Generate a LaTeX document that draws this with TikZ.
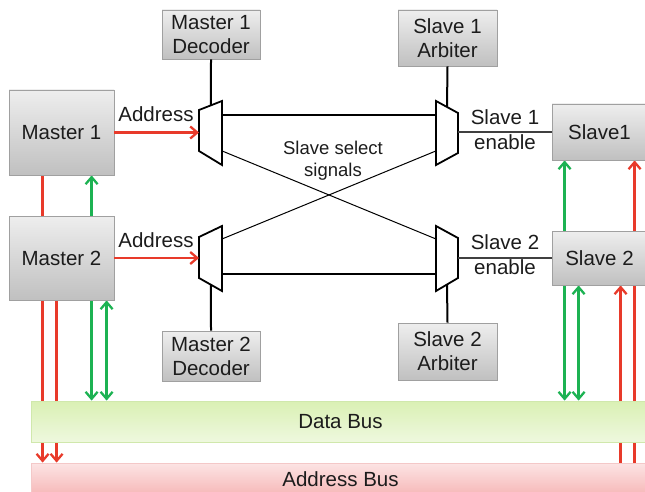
\documentclass[tikz,border=0pt]{standalone}
\usepackage{fontspec}
\setmainfont{Liberation Sans}
\usetikzlibrary{arrows.meta,calc,shadows}

\definecolor{sigred}{RGB}{232,58,42}
\definecolor{siggreen}{RGB}{28,178,82}
\definecolor{boxtop}{RGB}{238,238,238}
\definecolor{boxbot}{RGB}{192,192,192}
\definecolor{boxline}{RGB}{160,160,160}
\definecolor{dtop}{RGB}{218,240,180}
\definecolor{dbot}{RGB}{238,248,222}
\definecolor{dline}{RGB}{208,232,172}
\definecolor{atop}{RGB}{252,228,228}
\definecolor{abot}{RGB}{246,182,182}
\definecolor{aline}{RGB}{244,200,200}
\definecolor{txt}{RGB}{28,28,28}

\pgfdeclarelayer{wires}
\pgfsetlayers{wires,main}

\tikzset{
  box/.style={draw=boxline, line width=0.8pt, top color=boxtop, bottom color=boxbot,
    inner sep=0pt, align=center, text=txt,
    font=\fontsize{20.5}{24}\selectfont,
    drop shadow={shadow xshift=0.8pt, shadow yshift=-0.8pt, opacity=0.25, fill=black!40}},
  busbar/.style={inner sep=0pt, text=txt, line width=0.8pt, font=\fontsize{20.5}{24}\selectfont},
  lbl/.style={inner sep=0pt, align=center, text=txt, font=\fontsize{20.5}{25}\selectfont},
  small lbl/.style={inner sep=0pt, align=center, text=txt, font=\fontsize{18.5}{22}\selectfont},
  sig/.style={line width=2.3pt},
  mux/.style={draw=black, line width=1.8pt, fill=white, line join=miter},
  thick link/.style={draw=black, line width=2pt},
  thin link/.style={draw=black, line width=1pt},
  enable link/.style={draw=black!75, line width=1.2pt},
}

\begin{document}
\begin{tikzpicture}[x=1pt, y=-1pt, >={Straight Barb[length=7pt,width=12pt]}]
\useasboundingbox (0,0) rectangle (645,492);
\clip (0,0) rectangle (645,492);

% multiplexer corner points
\coordinate (m1a) at (199,110); \coordinate (m1b) at (222,101);
\coordinate (m1c) at (222,165); \coordinate (m1d) at (199,151);
\coordinate (m2a) at (199,237); \coordinate (m2b) at (222,226);
\coordinate (m2c) at (222,291); \coordinate (m2d) at (199,278);
\coordinate (s1a) at (436,101); \coordinate (s1b) at (458,113);
\coordinate (s1c) at (458,153); \coordinate (s1d) at (436,165);
\coordinate (s2a) at (436,226); \coordinate (s2b) at (458,238);
\coordinate (s2c) at (458,278); \coordinate (s2d) at (436,291);

% masters, slaves and buses
\node[box, minimum width=105pt, minimum height=85pt] (M1) at (61.5,132.5) {Master 1};
\node[box, minimum width=105pt, minimum height=84pt] (M2) at (61.5,258) {Master 2};
\node[box, minimum width=100pt, minimum height=56pt] (S1) at (602,132) {Slave1\hspace*{5pt}};
\node[box, minimum width=100pt, minimum height=54pt] (S2) at (602,258) {Slave 2\hspace*{5pt}};
\node[busbar, minimum width=625pt, minimum height=41pt, top color=dtop,
      bottom color=dbot, draw=dline] (DB) at (343.5,421.5) {Data Bus\hspace*{6pt}};
\node[busbar, minimum width=625pt, minimum height=33pt, top color=atop,
      bottom color=abot, draw=aline] (AB) at (343.5,479.5) {Address Bus\hspace*{6pt}};

% decoders and arbiters
\node[box, minimum width=98pt, minimum height=49pt] (D1) at (211,34.5) {Master 1\\Decoder};
\node[box, minimum width=98pt, minimum height=50pt] (D2) at (211,356) {Master 2\\Decoder};
\node[box, minimum width=99pt, minimum height=56pt] (A1) at (447.5,38) {Slave 1\\Arbiter};
\node[box, minimum width=99pt, minimum height=57pt] (A2) at (447.5,351.5) {Slave 2\\Arbiter};

% bus wires, running behind the boxes and bars
\begin{pgfonlayer}{wires}
  \draw[sig, sigred, ->] ([xshift=34pt]M1.south west) -- ([xshift=34pt]M1.south west |- AB.north);
  \draw[sig, sigred, ->] ([xshift=48pt]M2.south west) -- ([xshift=48pt]M2.south west |- AB.north);
  \draw[sig, siggreen, <->] ([xshift=83pt]M1.south west) -- ([xshift=83pt]M1.south west |- DB.north);
  \draw[sig, siggreen, <->] ([xshift=98pt]M2.south west) -- ([xshift=98pt]M2.south west |- DB.north);
  \draw[sig, siggreen, <->] ([xshift=13pt]S1.south west) -- ([xshift=13pt]S1.south west |- DB.north);
  \draw[sig, siggreen, <->] ([xshift=27pt]S2.south west) -- ([xshift=27pt]S2.south west |- DB.north);
  \draw[sig, sigred, ->] ([xshift=83pt]S1.south west |- AB.north) -- ([xshift=83pt]S1.south west);
  \draw[sig, sigred, ->] ([xshift=69pt]S2.south west |- AB.north) -- ([xshift=69pt]S2.south west);
\end{pgfonlayer}

% decoder / arbiter control lines
\draw[thick link] (D1.south) -- ($(m1a)!0.52!(m1b)$);
\draw[thick link] (D2.north) -- ($(m2d)!0.52!(m2c)$);
\draw[thick link] (A1.south) -- ($(s1a)!0.5!(s1b)$);
\draw[thick link] (A2.north) -- ($(s2d)!0.5!(s2c)$);

% address paths between multiplexers
\draw[thick link] ($(m1b)!0.219!(m1c)$) -- ($(s1a)!0.219!(s1d)$);
\draw[thick link] ($(m2b)!0.738!(m2c)$) -- ($(s2a)!0.738!(s2d)$);

% slave select signals
\draw[thin link] ($(m1b)!0.78!(m1c)$) -- ($(s2a)!0.2!(s2d)$);
\draw[thin link] ($(m2b)!0.2!(m2c)$) -- ($(s1a)!0.78!(s1d)$);
\node[small lbl] (sel) at (333,161) {Slave select\\signals};

% multiplexers
\draw[mux] (m1a) -- (m1b) -- (m1c) -- (m1d) -- cycle;
\draw[mux] (m2a) -- (m2b) -- (m2c) -- (m2d) -- cycle;
\draw[mux] (s1a) -- (s1b) -- (s1c) -- (s1d) -- cycle;
\draw[mux] (s2a) -- (s2b) -- (s2c) -- (s2d) -- cycle;

% master address into decoders
\draw[sig, sigred, ->] (M1.east) -- (M1.east -| m1a);
\draw[sig, sigred, ->] (M2.east) -- (M2.east -| m2a);
\node[lbl, anchor=base] (ad1) at (156,122) {Address};
\node[lbl, anchor=base] (ad2) at (156,247) {Address};

% slave enables
\draw[enable link] (S1.west -| s1b) -- (S1.west);
\draw[enable link] (S2.west -| s2b) -- (S2.west);
\node[lbl] (en1) at (505,130) {Slave 1\\enable};
\node[lbl] (en2) at (505,255) {Slave 2\\enable};
\end{tikzpicture}
\end{document}
